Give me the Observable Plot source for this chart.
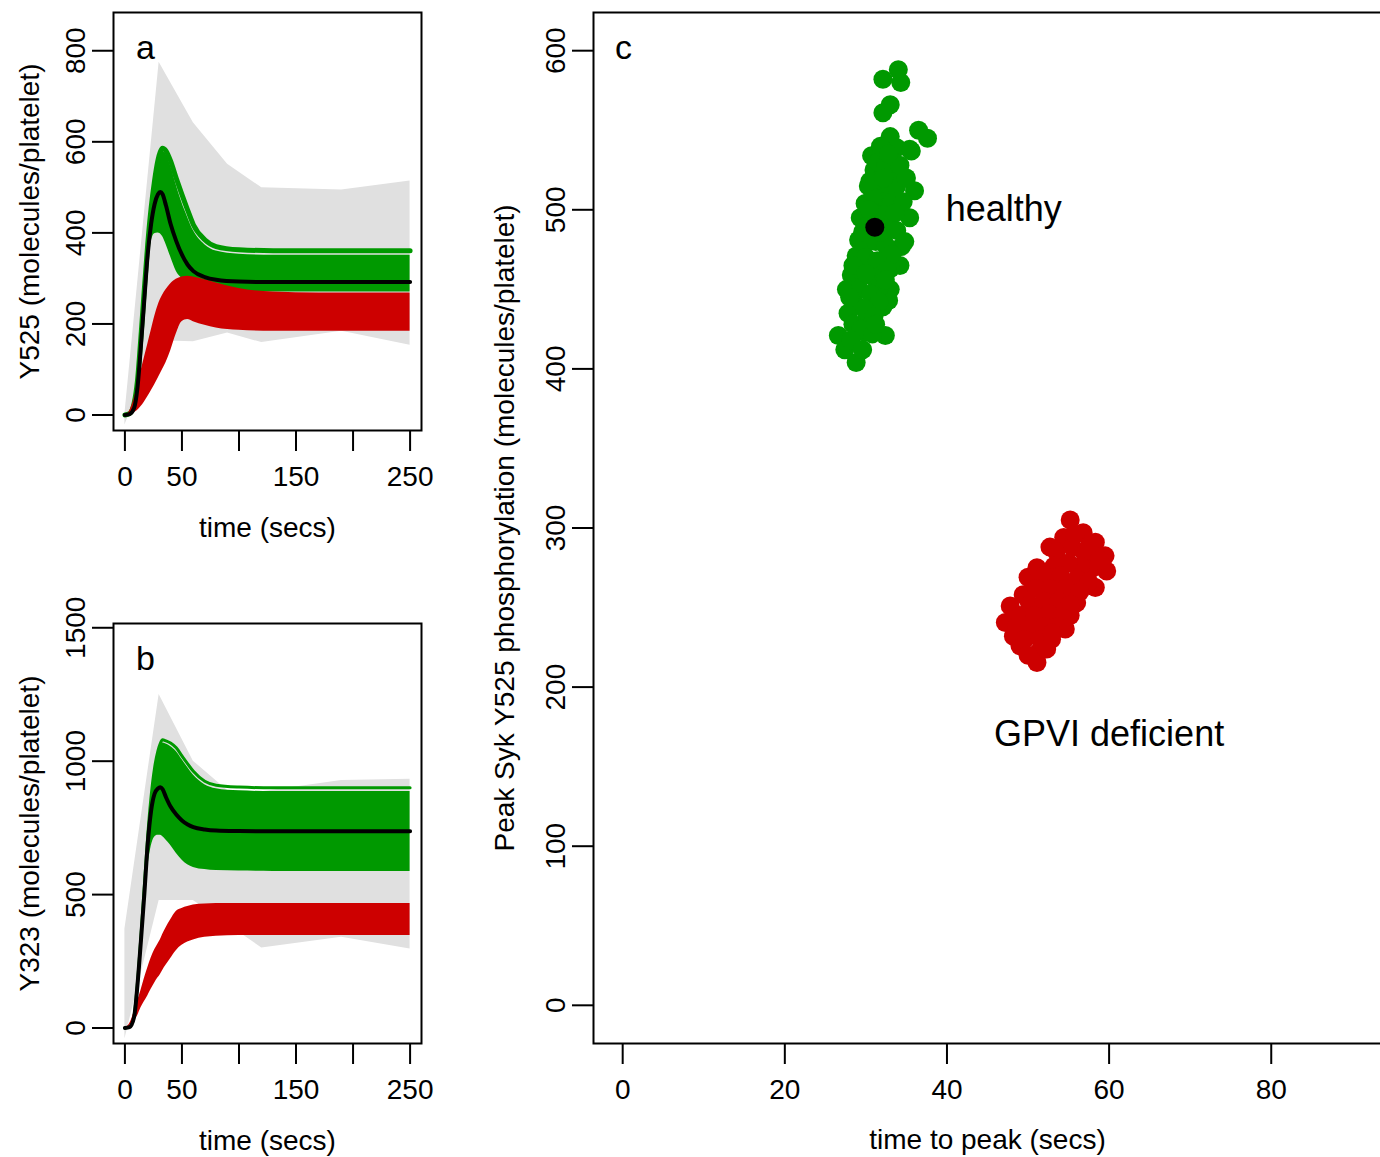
<!DOCTYPE html>
<html><head><meta charset="utf-8">
<script src="https://cdn.jsdelivr.net/npm/d3@7"></script>
<script src="https://cdn.jsdelivr.net/npm/@observablehq/plot@0.6"></script>
<style>
html,body{margin:0;padding:0;background:#fff;overflow:hidden}
#fig{position:relative;width:1380px;height:1157px;overflow:hidden;background:#fff}
#fig svg{position:absolute}
</style></head><body><div id="fig"></div>
<script>
// ---------- shared ----------
const GREEN = "#009900", RED = "#cd0000", GRAY = "#e0e0e0";
const FONT = "'Liberation Sans', Arial, Helvetica, sans-serif";
const timeTicks = [0, 50, 100, 150, 200, 250];
const timeTickLabels = ["0", "50", "", "150", "", "250"];

// time grid of the simulated curves (secs)
const T = [0,4,8,11,14,17,20,23,26,29,31,33,36,40,45,50,55,60,70,80,100,130,170,210,250];

// ---------- panel a : Y525 ----------
const aBlack   = [0,2,15,60,150,253,353,420,463,485,490,485,460,420,382,352,330,316,303,297,293,292,292,292,292];
const aGreenTop= [0,3,25,75,170,275,375,455,515,560,578,586,580,558,520,484,450,418,385,370,363,361,361,361,361];
const aGreenHi = [0,3,25,75,170,275,375,455,515,558,573,578,572,548,505,466,434,405,374,360,353,351,351,351,351];
const aGreenLo = [0,2,15,58,145,245,335,380,398,400,398,392,375,348,316,300,290,285,279,275,272,270,270,270,270];
const aRedHi   = [0,8,35,65,95,125,155,185,215,240,253,263,275,288,298,303,305,303,297,290,278,270,268,268,268];
const aRedLo   = [0,0,5,10,18,28,40,53,66,80,90,100,115,140,178,205,210,205,197,191,186,184,184,184,184];
const grayT    = [0, 30, 60, 90, 120, 190, 250];
const aGrayHi  = [2, 775, 642, 551, 499, 494, 514];
const aGrayLo  = [-22, 163, 161, 180, 159, 184, 153];
const aYTicks  = [0, 200, 400, 600, 800];

// ---------- panel b : Y323 ----------
const bBlack   = [0,3,40,160,325,500,690,815,878,898,902,895,865,830,800,778,763,753,744,740,738,737,737,737,737];
const bGreenTop= [0,4,45,170,340,530,720,870,975,1040,1066,1080,1076,1068,1050,1020,990,962,925,910,903,900,900,900,900];
const bGreenHi = [0,4,45,170,335,520,705,858,960,1028,1054,1068,1064,1055,1036,1006,976,948,912,897,889,886,886,886,886];
const bGreenLo = [0,2,35,150,310,480,600,680,715,722,722,718,705,685,655,630,612,602,594,590,588,587,587,587,587];
const bRedHi   = [0,15,58,100,140,185,225,262,292,315,330,350,375,405,437,448,455,461,465,467,467,467,467,467,467];
const bRedLo   = [0,8,28,45,75,98,120,145,168,188,200,215,235,260,290,310,322,330,340,344,347,347,347,347,347];
const bGrayHi  = [371, 1250, 1000, 890, 885, 928, 932];
const bGrayLo  = [-41, 478, 478, 389, 300, 340, 296];
const bYTicks  = [0, 500, 1000, 1500];

// ---------- panel c : peak vs time to peak ----------
const healthyT = [34.0,32.1,34.3,33.0,32.1,36.5,37.6,33.0,30.7,35.4,33.8,35.6,31.0,33.6,30.3,36.0,32.6,29.9,29.3,35.4,29.1,34.4,28.8,34.2,33.0,28.2,27.6,33.0,32.8,32.1,27.8,30.1,26.6,29.9,32.4,27.4,28.8,
  31.5,32.5,34.2,31.8,32.8,31.2,33.8,32.0,33.2,30.8,34.6,31.0,32.4,33.6,30.2,32.6,33.8,29.8,31.2,32.4,33.2,30.0,31.4,32.6,29.4,30.8,31.8,29.2,30.6,31.6,28.8,29.8,31.0,28.4,29.4,30.8,28.2,29.6,31.2,30.4,29.6,28.4,28.0,31.8,30.5,35.0,34.8,32.2,30.0,32.4];
const healthyV = [588,582,580,566,561,550,545,546,534,538,539,537,525,522,515,512,513,504,495,495,481,477,471,465,463,459,450,450,443,439,435,433,421,423,421,412,404,
  530,528,528,540,535,518,515,505,505,508,505,498,497,498,490,488,487,478,480,478,472,470,468,462,462,458,452,450,447,442,440,438,433,428,425,422,418,412,428,500,486,465,445,486,518,520,480,520,460,456];
const gpviT = [55.2,56.8,58.3,59.5,59.7,58.3,56.0,55.2,54.6,52.9,51.3,51.1,49.0,48.2,47.2,47.8,49.4,50.0,51.1,52.7,54.4,
  53.5,55.5,57.0,58.0,56.5,55.0,53.2,52.0,54.0,56.0,57.5,51.0,52.8,54.6,56.4,50.2,52.0,53.8,55.2,49.0,50.8,52.6,54.2,48.6,50.2,52.0,53.6,49.6,51.5,53.0,50.0,52.3,55.8,57.6,58.8];
const gpviV = [305,297,291,282.5,273,262.6,253,245,236.5,230,222,215.5,226,232,240.6,251,258,269,275,288,294,
  285,288,284,275,276,278,276,270,270,268,266,262,262,262,260,252,254,254,252,245,245,246,244,238,237,238,238,230,230,234,220,224,296,289,280];
const nominalT = [31.1], nominalV = [489];
const annotT = [47, 60], annotV = [500, 170], annotText = ["healthy", "GPVI deficient"];
const cXTicks = [0, 20, 40, 60, 80];
const cYTicks = [0, 100, 200, 300, 400, 500, 600];

// ---------- helpers ----------
const fig = document.getElementById("fig");
function place(svg, left, top) { svg.style.left = left + "px"; svg.style.top = top + "px"; fig.appendChild(svg); }
const baseStyle = {fontFamily: FONT, fontSize: "28px", color: "black", background: "transparent", overflow: "visible"};
const plain = d => String(d);

function yTitle(label, dx) {
  return Plot.text([label], {frameAnchor: "left", text: d => d, rotate: -90, dx, textAnchor: "middle", lineAnchor: "middle"});
}
function xTitle(label, dy) {
  return Plot.text([label], {frameAnchor: "bottom", text: d => d, dy, textAnchor: "middle", lineAnchor: "middle"});
}
function letter(l, dx, dy) {
  return Plot.text([l], {frameAnchor: "top-left", text: d => d, dx, dy, fontSize: 34, textAnchor: "middle", lineAnchor: "middle"});
}

function timeCourse(o) {
  const curves = T.map((t, i) => ({t, black: o.black[i], gTop: o.gTop[i], gHi: o.gHi[i], gLo: o.gLo[i], rHi: o.rHi[i], rLo: o.rLo[i]}));
  const gray = grayT.map((t, i) => ({t, hi: o.grayHi[i], lo: o.grayLo[i]}));
  return Plot.plot({
    width: 450, height: o.height,
    marginLeft: 113, marginRight: 29, marginTop: o.marginTop, marginBottom: o.marginBottom,
    x: {domain: [-10, 260]}, y: {domain: o.yDomain},
    style: baseStyle,
    marks: [
      Plot.areaY(gray, {x: "t", y1: "lo", y2: "hi", fill: GRAY}),
      Plot.areaY(curves, {x: "t", y1: "gLo", y2: "gHi", fill: GREEN, curve: "monotone-x"}),
      Plot.line(curves, {x: "t", y: "gTop", stroke: GREEN, strokeWidth: o.topWidth, curve: "monotone-x"}),
      Plot.areaY(curves, {x: "t", y1: "rLo", y2: "rHi", fill: RED, curve: "monotone-x"}),
      Plot.line(curves, {x: "t", y: "black", stroke: "black", strokeWidth: 4, curve: "monotone-x"}),
      Plot.frame({stroke: "black", strokeWidth: 2}),
      Plot.axisX({ticks: timeTicks, tickSize: 21, tickPadding: 15, strokeWidth: 2, label: null,
        tickFormat: d => timeTickLabels[timeTicks.indexOf(d)]}),
      Plot.axisY({ticks: o.yTicks, tickSize: 21, tickPadding: 8, tickRotate: -90, strokeWidth: 2, label: null, tickFormat: plain}),
      yTitle(o.yLabel, -83),
      xTitle("time (secs)", 98),
      letter(o.letter, 32, 36)
    ]
  });
}

place(timeCourse({black: aBlack, gTop: aGreenTop, gHi: aGreenHi, gLo: aGreenLo, rHi: aRedHi, rLo: aRedLo,
  grayHi: aGrayHi, grayLo: aGrayLo, yDomain: [-34, 884], yTicks: aYTicks, topWidth: 5,
  yLabel: "Y525 (molecules/platelet)", letter: "a", height: 570, marginTop: 12, marginBottom: 140}), 0, 0);

place(timeCourse({black: bBlack, gTop: bGreenTop, gHi: bGreenHi, gLo: bGreenLo, rHi: bRedHi, rLo: bRedLo,
  grayHi: bGrayHi, grayLo: bGrayLo, yDomain: [-58, 1516], yTicks: bYTicks, topWidth: 3,
  yLabel: "Y323 (molecules/platelet)", letter: "b", height: 587, marginTop: 53, marginBottom: 114}), 0, 570);

// panel c
const healthy = healthyT.map((t, i) => ({t, v: healthyV[i]}));
const gpvi = gpviT.map((t, i) => ({t, v: gpviV[i]}));
const nominal = nominalT.map((t, i) => ({t, v: nominalV[i]}));
const annot = annotT.map((t, i) => ({t, v: annotV[i], label: annotText[i]}));
place(Plot.plot({
  width: 950, height: 1157,
  marginLeft: 143, marginRight: 19, marginTop: 12, marginBottom: 114,
  x: {domain: [-3.6, 93.6]}, y: {domain: [-24, 624]},
  style: baseStyle,
  marks: [
    Plot.dot(healthy, {x: "t", y: "v", r: 9.5, fill: GREEN}),
    Plot.dot(gpvi, {x: "t", y: "v", r: 9.5, fill: RED}),
    Plot.dot(nominal, {x: "t", y: "v", r: 9.5, fill: "black"}),
    Plot.text(annot, {x: "t", y: "v", text: "label", fontSize: 36}),
    Plot.frame({stroke: "black", strokeWidth: 2}),
    Plot.axisX({ticks: cXTicks, tickSize: 21, tickPadding: 15, strokeWidth: 2, label: null, tickFormat: plain}),
    Plot.axisY({ticks: cYTicks, tickSize: 21, tickPadding: 8, tickRotate: -90, strokeWidth: 2, label: null, tickFormat: plain}),
    yTitle("Peak Syk Y525 phosphorylation (molecules/platelet)", -88),
    xTitle("time to peak (secs)", 97),
    letter("c", 30, 36)
  ]
}), 450, 0);
</script></body></html>
